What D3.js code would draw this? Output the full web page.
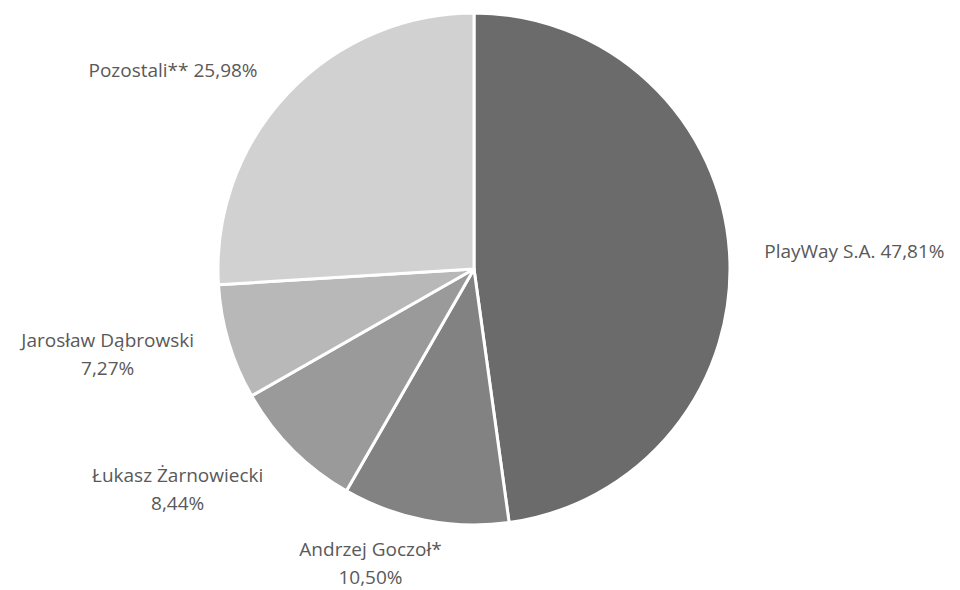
<!DOCTYPE html>
<html>
<head>
<meta charset="utf-8">
<script src="https://cdn.jsdelivr.net/npm/d3@7"></script>
<style>
  body { margin: 0; background: #fff; }
  text { font-family: "Open Sans", "Liberation Sans", sans-serif; fill: #595959; }
</style>
</head>
<body>
<svg width="960" height="590"></svg>
<script>
// shareholders, in clockwise order from 12 o'clock
const names = ["PlayWay S.A.", "Andrzej Goczoł*", "Łukasz Żarnowiecki", "Jarosław Dąbrowski", "Pozostali**"];
const shares = [47.81, 10.50, 8.44, 7.27, 25.98];
const colors = ["#6b6b6b", "#828282", "#9a9a9a", "#b8b8b8", "#d1d1d1"];
// label on one line or two
const twoLine = [false, true, true, true, false];
// shift of each label box away from the point just outside its slice
const labelNudge = [[101, 1], [-50, 19], [-98, 22], [-98, 5], [-97, -7]];

const svg = d3.select('svg');
const cx = 474, cy = 269, radius = 256;
const fmt = v => v.toFixed(2).replace('.', ',') + '%';

const data = names.map((n, i) => ({name: n, value: shares[i], color: colors[i], two: twoLine[i], nudge: labelNudge[i]}));

const pie = d3.pie().value(d => d.value).sort(null);
const arc = d3.arc().innerRadius(0).outerRadius(radius);
const labelArc = d3.arc().innerRadius(280).outerRadius(280);
const arcs = pie(data);

const g = svg.append('g').attr('transform', `translate(${cx}, ${cy})`);

g.selectAll('path.slice')
  .data(arcs)
  .enter().append('path')
    .attr('class', 'slice')
    .attr('d', arc)
    .attr('fill', d => d.data.color)
    .attr('stroke', '#fff')
    .attr('stroke-width', 3)
    .attr('stroke-linejoin', 'round');

const lineH = 28;
const labels = g.selectAll('text.label')
  .data(arcs)
  .enter().append('text')
    .attr('class', 'label')
    .attr('text-anchor', 'middle')
    .style('font-size', '19px')
    .attr('transform', d => {
      const p = labelArc.centroid(d);
      return `translate(${p[0] + d.data.nudge[0]}, ${p[1] + d.data.nudge[1]})`;
    });

labels.each(function(d) {
  const t = d3.select(this);
  if (d.data.two) {
    t.append('tspan').attr('x', 0).attr('y', -lineH / 2 + 7).text(d.data.name);
    t.append('tspan').attr('x', 0).attr('y', lineH / 2 + 7).text(fmt(d.data.value));
  } else {
    t.append('tspan').attr('x', 0).attr('y', 7).text(d.data.name + ' ' + fmt(d.data.value));
  }
});
</script>
</body>
</html>
